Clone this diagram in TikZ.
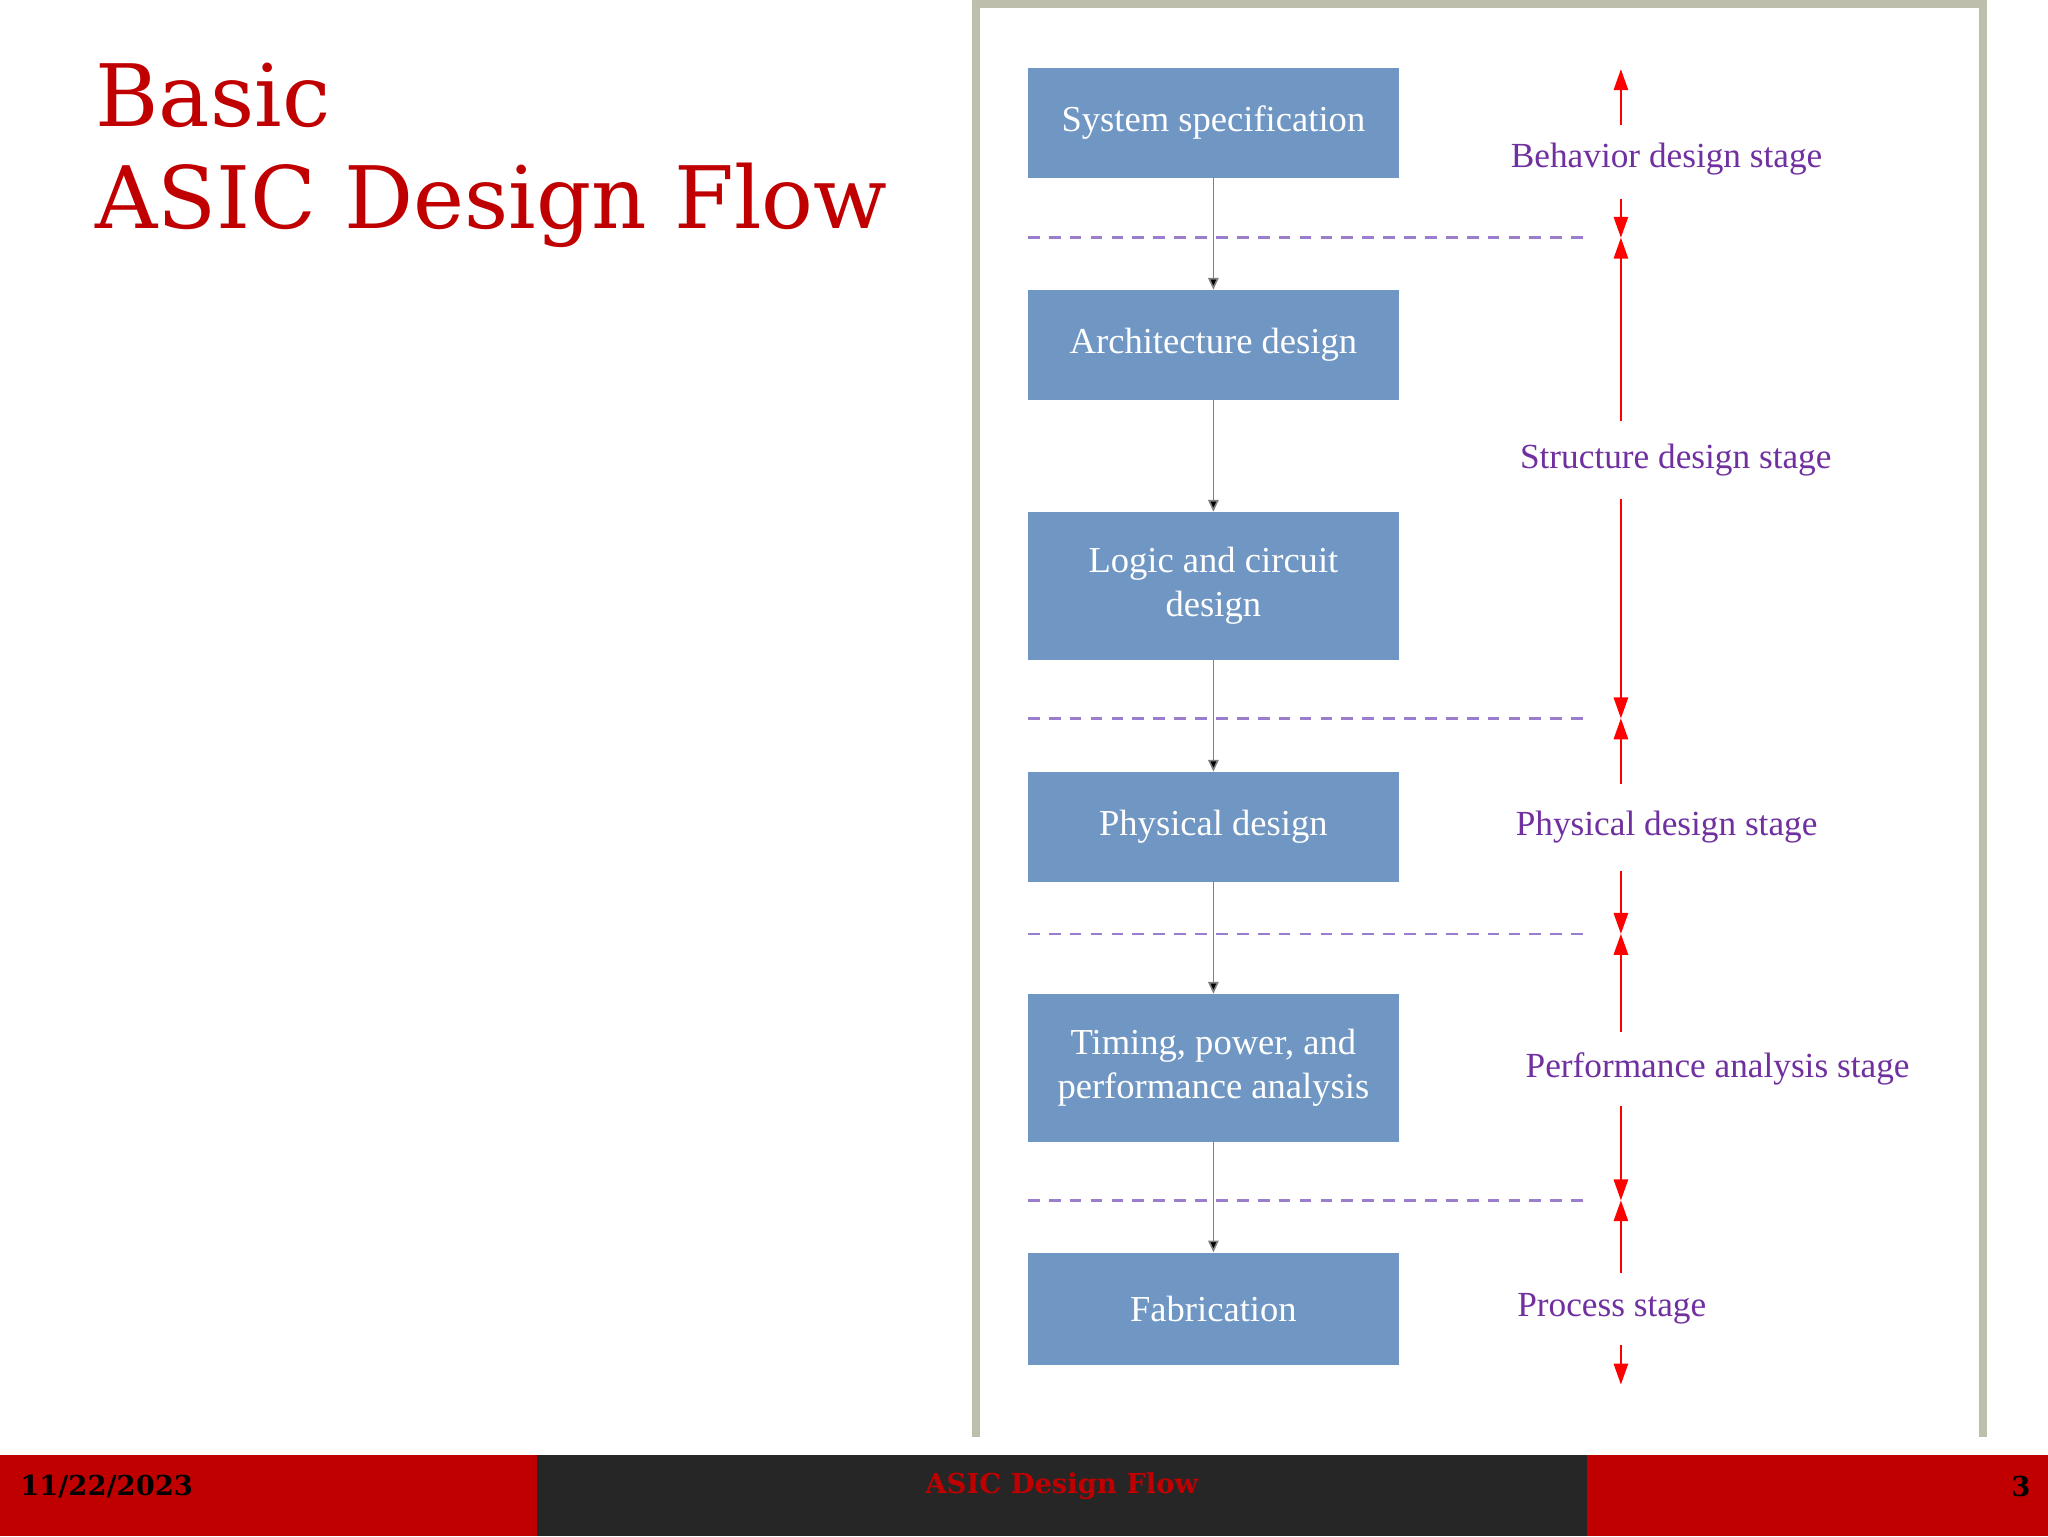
\documentclass[tikz,border=0pt]{standalone}
\usepackage{fontspec}
\setmainfont{Liberation Serif}
\newfontfamily\titlefont{DejaVu Serif}
\usetikzlibrary{arrows.meta}
\definecolor{boxblue}{RGB}{112,150,195}
\definecolor{stagepurple}{RGB}{112,48,160}
\definecolor{dashpurple}{RGB}{155,125,205}
\definecolor{ftred}{RGB}{192,0,0}
\definecolor{ftdark}{RGB}{38,38,38}
\definecolor{frame}{RGB}{190,190,172}
\tikzset{
 stepbox/.style={fill=boxblue,draw=none,minimum width=284pt,text=white,align=center,font=\fontsize{28}{34}\selectfont,inner sep=0pt},
 flow/.style={draw=gray,line width=1.2pt,-{Triangle[length=9pt,width=8pt,fill=black]}},
 sep/.style={draw=dashpurple,dash pattern=on 9pt off 7pt,line width=2pt},
 redarr/.style={draw=red,line width=1.3pt,-{Triangle[length=16pt,width=11pt]}},
 stage/.style={text=stagepurple,font=\fontsize{27}{32}\selectfont},
}
\begin{document}
\begin{tikzpicture}[x=1pt,y=-1pt]
\useasboundingbox (0,0) rectangle (1568,1176);
\fill[white] (0,0) rectangle (1568,1176);
% panel frame
\fill[frame] (744,0) rectangle (1521,6);
\fill[frame] (744,0) rectangle (750,1100);
\fill[frame] (1515,0) rectangle (1521,1100);
% title
\node[anchor=base west,text=ftred,font=\titlefont\fontsize{66}{78}\selectfont,inner sep=0pt] (t1) at (73,97) {Basic};
\node[anchor=base west,text=ftred,font=\titlefont\fontsize{66}{78}\selectfont,inner sep=0pt] (t2) at (73,175) {ASIC Design Flow};
% boxes
\node[stepbox,minimum height=84pt] (b1) at (929,94) {System specification};
\node[stepbox,minimum height=84pt] (b2) at (929,264) {Architecture design};
\node[stepbox,minimum height=113pt] (b3) at (929,448.5) {Logic and circuit\\design};
\node[stepbox,minimum height=84pt] (b4) at (929,633) {Physical design};
\node[stepbox,minimum height=113pt] (b5) at (929,817.5) {Timing, power, and\\performance analysis};
\node[stepbox,minimum height=86pt] (b6) at (929,1002) {Fabrication};
\draw[flow] (b1.south) -- (b2.north);
\draw[flow] (b2.south) -- (b3.north);
\draw[flow] (b3.south) -- (b4.north);
\draw[flow] (b4.south) -- (b5.north);
\draw[flow] (b5.south) -- (b6.north);
% separators
\foreach \yy/\nm in {182/d1,550/d2,715/d3,919/d4}{
 \coordinate (\nm l) at (787,\yy); \coordinate (\nm r) at (1213,\yy);
 \draw[sep] (\nm l) -- (\nm r);
 \coordinate (\nm a) at (1241,\yy);
}
% stage labels
\node[stage] (s1) at (1276,122) {Behavior design stage};
\node[stage] (s2) at (1283,352) {Structure design stage};
\node[stage] (s3) at (1276,633) {Physical design stage};
\node[stage] (s4) at (1315,818) {Performance analysis stage};
\node[stage] (s5) at (1234,1002) {Process stage};
% red arrows
\coordinate (r0) at (1241,53);
\coordinate (r1a) at (1241,96); \coordinate (r1b) at (1241,152);
\coordinate (r2a) at (1241,322); \coordinate (r2b) at (1241,382);
\coordinate (r3a) at (1241,600); \coordinate (r3b) at (1241,667);
\coordinate (r4a) at (1241,790); \coordinate (r4b) at (1241,847);
\coordinate (r5a) at (1241,975); \coordinate (r5b) at (1241,1030);
\coordinate (r6) at (1241,1060);
\draw[redarr] (r1a) -- (r0);
\draw[redarr] (r1b) -- (d1a);
\draw[redarr] (r2a) -- (d1a);
\draw[redarr] (r2b) -- (d2a);
\draw[redarr] (r3a) -- (d2a);
\draw[redarr] (r3b) -- (d3a);
\draw[redarr] (r4a) -- (d3a);
\draw[redarr] (r4b) -- (d4a);
\draw[redarr] (r5a) -- (d4a);
\draw[redarr] (r5b) -- (r6);
% footer
\fill[ftred] (0,1114) rectangle (411,1176);
\fill[ftdark] (411,1114) rectangle (1215,1176);
\fill[ftred] (1215,1114) rectangle (1568,1176);
\node[anchor=west,font=\titlefont\bfseries\fontsize{21}{24}\selectfont,text=black] (f1) at (12,1138) {11/22/2023};
\node[font=\titlefont\bfseries\fontsize{21}{24}\selectfont,text=ftred] (f2) at (813,1138) {ASIC Design Flow};
\node[anchor=east,font=\titlefont\bfseries\fontsize{21}{24}\selectfont,text=black] (f3) at (1558,1138) {3};
\end{tikzpicture}
\end{document}
